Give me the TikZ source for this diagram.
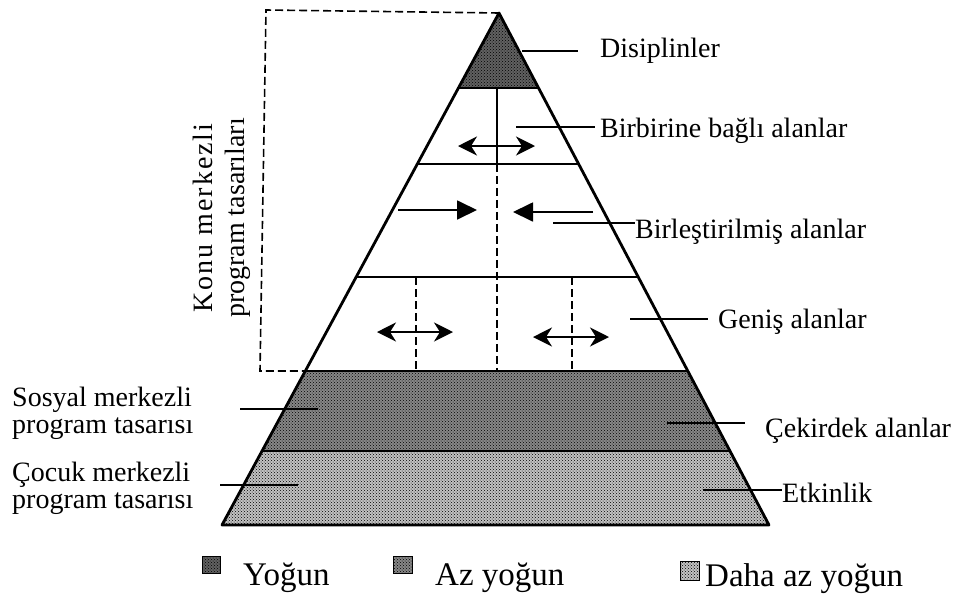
\documentclass[tikz,border=0pt]{standalone}
\usepackage{fontspec}
\setmainfont{Liberation Serif}
\newfontfamily\spacedserif[LetterSpace=7]{Liberation Serif}
\usetikzlibrary{calc,arrows.meta,patterns}
\begin{document}
\begin{tikzpicture}[x=1pt,y=-1pt,
  lbl/.style={inner sep=0pt,anchor=base west,font=\fontsize{28}{32}\selectfont},
  leg/.style={inner sep=0pt,anchor=base west,font=\fontsize{33}{36}\selectfont},
  ldr/.style={line width=1.7pt},
  edge/.style={line width=2.8pt,line join=round},
  sep/.style={line width=2.1pt},
  dsh/.style={line width=1.6pt,dash pattern=on 8pt off 4pt},
  dbl/.style={line width=1.8pt,{Stealth[length=19pt,width=19pt,inset=6pt]}-{Stealth[length=19pt,width=19pt,inset=6pt]}},
  sgl/.style={line width=1.8pt,-{Triangle[length=20pt,width=19pt]}},
  shA/.style={fill=black!62,postaction={pattern=crosshatch dots,pattern color=black}},
  shB/.style={fill=black!47,postaction={pattern=crosshatch dots,pattern color=black}},
  shC/.style={fill=black!24,postaction={pattern=crosshatch dots,pattern color=black}},
]
\useasboundingbox (0,0) rectangle (961,603);
% pyramid corners
\coordinate (A) at (499,13);
\coordinate (L) at (222,525);
\coordinate (R) at (769,525);
\coordinate (l1) at ($(A)!0.1465!(L)$); \coordinate (r1) at ($(A)!0.1465!(R)$);
\coordinate (l2) at ($(A)!0.2949!(L)$); \coordinate (r2) at ($(A)!0.2949!(R)$);
\coordinate (l3) at ($(A)!0.5156!(L)$); \coordinate (r3) at ($(A)!0.5156!(R)$);
\coordinate (l4) at ($(A)!0.6992!(L)$); \coordinate (r4) at ($(A)!0.6992!(R)$);
\coordinate (l5) at ($(A)!0.8555!(L)$); \coordinate (r5) at ($(A)!0.8555!(R)$);
% fills
\path[shA] (A) -- (r1) -- (l1) -- cycle;
\path[shB] (l4) -- (r4) -- (r5) -- (l5) -- cycle;
\path[shC] (l5) -- (r5) -- (R) -- (L) -- cycle;
% dashed frame
\coordinate (f1) at (266,10);
\coordinate (f2) at (260,371);
\draw[dsh] (A) -- (f1) -- (f2) -- (l4);
% separators
\draw[sep] (l1) -- (r1);
\draw[sep] (l2) -- (r2);
\draw[sep] (l3) -- (r3);
\draw[sep] (l4) -- (r4);
\draw[sep] (l5) -- (r5);
% center line
\coordinate (c1) at (497,88);
\draw[sep] (c1) -- (c1 |- l2);
\draw[dsh] (c1 |- l2) -- (c1 |- l4);
\coordinate (d1) at (416,277);
\coordinate (d2) at (572,277);
\draw[dsh] (d1) -- (d1 |- l4);
\draw[dsh] (d2) -- (d2 |- l4);
% outline
\draw[edge] (A) -- (L) -- (R) -- cycle;
% arrows
\coordinate (a1s) at (458,146); \coordinate (a1e) at (535,146);
\draw[dbl] (a1s) -- (a1e);
\coordinate (a2s) at (398,210); \coordinate (a2e) at (477,210);
\draw[sgl] (a2s) -- (a2e);
\coordinate (a3s) at (593,212); \coordinate (a3e) at (513,212);
\draw[sgl] (a3s) -- (a3e);
\coordinate (a4s) at (377,332); \coordinate (a4e) at (453,332);
\draw[dbl] (a4s) -- (a4e);
\coordinate (a5s) at (533,337); \coordinate (a5e) at (609,337);
\draw[dbl] (a5s) -- (a5e);
% right labels
\node[lbl] (disi) at (600,57) {Disiplinler};
\node[lbl] (birb) at (600,137) {Birbirine bağlı alanlar};
\node[lbl] (birl) at (635,238) {Birleştirilmiş alanlar};
\node[lbl] (gen) at (718,328) {Geniş alanlar};
\node[lbl] (cek) at (765,437) {Çekirdek alanlar};
\node[lbl] (etk) at (782,502) {Etkinlik};
\coordinate (p1) at (522,51);
\draw[ldr] (p1) -- ([xshift=-22pt]p1 -| disi.west);
\coordinate (p2) at (516,127);
\draw[ldr] (p2) -- ([xshift=-5pt]p2 -| birb.west);
\coordinate (p3) at (553,223);
\draw[ldr] (p3) -- (p3 -| birl.west);
\coordinate (p4) at (630,319);
\draw[ldr] (p4) -- ([xshift=-10pt]p4 -| gen.west);
\coordinate (p5) at (667,423);
\draw[ldr] (p5) -- ([xshift=-20pt]p5 -| cek.west);
\coordinate (p6) at (703,490);
\draw[ldr] (p6) -- (p6 -| etk.west);
% left labels
\node[lbl] (sos1) at (12,406) {Sosyal merkezli};
\node[lbl] (sos2) at (12,433) {program tasarısı};
\node[lbl] (coc1) at (12,481) {Çocuk merkezli};
\node[lbl] (coc2) at (12,508) {program tasarısı};
\coordinate (q1) at (240,409); \coordinate (q2) at (318,409);
\draw[ldr] (q1) -- (q2);
\coordinate (q3) at (220,485); \coordinate (q4) at (298,485);
\draw[ldr] (q3) -- (q4);
% rotated label
\node[inner sep=0pt,rotate=90,align=center,font=\fontsize{28}{32}\selectfont] (konu) at (222,218) {{\spacedserif Konu merkezli}\\program tasarıları};
% legend
\node[draw,line width=1pt,minimum width=18pt,minimum height=17pt,inner sep=0pt,shA] (s1) at (211,564.5) {};
\node[leg] (t1) at (243,585) {Yoğun};
\node[draw,line width=1pt,minimum width=19pt,minimum height=17pt,inner sep=0pt,shB] (s2) at (403,564.5) {};
\node[leg] (t2) at (435,585) {Az yoğun};
\node[draw,line width=1pt,minimum width=19pt,minimum height=19pt,inner sep=0pt,shC] (s3) at (690,571) {};
\node[leg] (t3) at (705,586) {Daha az yoğun};
\end{tikzpicture}
\end{document}
